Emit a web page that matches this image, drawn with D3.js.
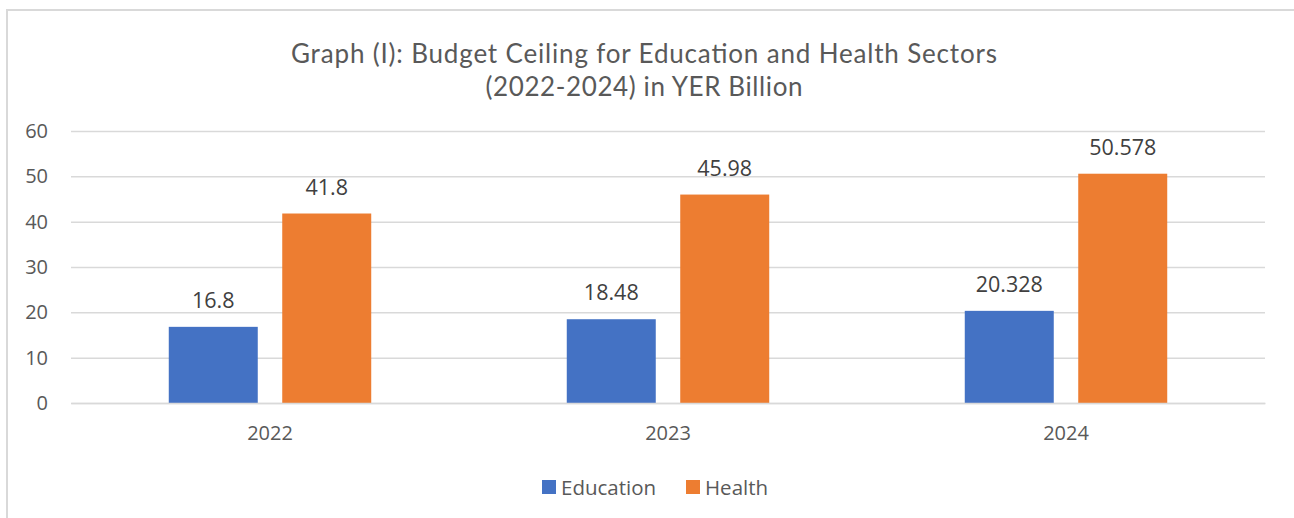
<!DOCTYPE html>
<html>
<head>
<meta charset="utf-8">
<script src="https://cdn.jsdelivr.net/npm/d3@7/dist/d3.min.js"></script>
<style>
  html, body { margin: 0; padding: 0; background: #ffffff; }
  svg { display: block; }
</style>
</head>
<body>
<svg id="chart" width="1294" height="518"></svg>
<script>
// Budget ceilings, YER billion
const years = ["2022", "2023", "2024"];
const seriesNames = ["Education", "Health"];
const education = [16.8, 18.48, 20.328];
const health = [41.8, 45.98, 50.578];
const yTicks = [0, 10, 20, 30, 40, 50, 60];
const titleLines = [
  "Graph (I): Budget Ceiling for Education and Health Sectors",
  "(2022-2024) in YER Billion"
];
const colors = ["#4472C4", "#ED7D31"];

const values = [education, health];
const svg = d3.select("#chart");
const textColor = "#595959";
const gridColor = "#d9d9d9";
const font = "'Open Sans', 'Noto Sans', sans-serif";

// chart frame
svg.append("rect")
  .attr("x", 7).attr("y", 10)
  .attr("width", 1400).attr("height", 700)
  .attr("fill", "#fff")
  .attr("stroke", gridColor).attr("stroke-width", 2);

// title (two centred lines, stretched to the title box width)
const titleWidths = [706, 317];
svg.append("g").selectAll("text").data(titleLines).join("text")
  .attr("x", 644).attr("y", (d, i) => 63 + i * 33)
  .attr("text-anchor", "middle")
  .attr("font-family", "Lato, 'Open Sans', sans-serif")
  .attr("font-size", 26)
  .attr("textLength", (d, i) => titleWidths[i])
  .attr("lengthAdjust", "spacing")
  .attr("fill", textColor)
  .text(d => d);

const plot = { left: 71, right: 1265, top: 131, bottom: 403 };

const y = d3.scaleLinear().domain([0, 60]).range([plot.bottom, plot.top]);
const x0 = d3.scaleBand().domain(years).range([plot.left, plot.right]).paddingInner(0).paddingOuter(0);
const bandW = x0.bandwidth();
const barW = bandW * 0.2236;
const innerGap = barW * 0.275;
const x1 = d3.scaleOrdinal().domain(seriesNames)
  .range([-(barW + innerGap / 2), innerGap / 2]);

// gridlines
const yAxis = d3.axisLeft(y).tickValues(yTicks).tickSize(-(plot.right - plot.left)).tickPadding(23);
const gy = svg.append("g").attr("transform", `translate(${plot.left},0)`).call(yAxis);
gy.select(".domain").remove();
gy.selectAll(".tick line").attr("stroke", gridColor).attr("stroke-width", 1.5);
gy.selectAll(".tick text")
  .attr("fill", textColor)
  .attr("font-family", font)
  .attr("font-size", 20);

// bars
const groups = svg.append("g").selectAll("g").data(years).join("g")
  .attr("transform", d => `translate(${x0(d) + bandW / 2},0)`);

groups.selectAll("rect")
  .data((d, i) => seriesNames.map((s, k) => ({ s, k, v: values[k][i] })))
  .join("rect")
  .attr("x", d => x1(d.s))
  .attr("y", d => y(d.v))
  .attr("width", barW)
  .attr("height", d => y(0) - y(d.v))
  .attr("fill", d => colors[d.k]);

// value labels
groups.selectAll("text.val")
  .data((d, i) => seriesNames.map((s, k) => ({ s, k, v: values[k][i] })))
  .join("text")
  .attr("class", "val")
  .attr("x", d => x1(d.s) + barW / 2)
  .attr("y", d => y(d.v) - 19)
  .attr("text-anchor", "middle")
  .attr("font-family", font)
  .attr("font-size", 21.5)
  .attr("fill", "#404040")
  .text(d => String(d.v));

// category axis
const xAxis = d3.axisBottom(x0).tickSize(0).tickPadding(23);
const gx = svg.append("g").attr("transform", `translate(0,${plot.bottom})`).call(xAxis);
gx.select(".domain").attr("stroke", gridColor).attr("stroke-width", 1.5);
gx.selectAll(".tick text")
  .attr("fill", textColor)
  .attr("font-family", font)
  .attr("font-size", 20);

// legend
const legendItems = [
  { name: seriesNames[0], color: colors[0], x: 542 },
  { name: seriesNames[1], color: colors[1], x: 686 }
];
const lg = svg.append("g").selectAll("g").data(legendItems).join("g")
  .attr("transform", d => `translate(${d.x},480)`);
lg.append("rect").attr("width", 14).attr("height", 14).attr("fill", d => d.color);
lg.append("text")
  .attr("x", 19).attr("y", 14.5)
  .attr("font-family", font)
  .attr("font-size", 20.5)
  .attr("fill", textColor)
  .text(d => d.name);
</script>
</body>
</html>
